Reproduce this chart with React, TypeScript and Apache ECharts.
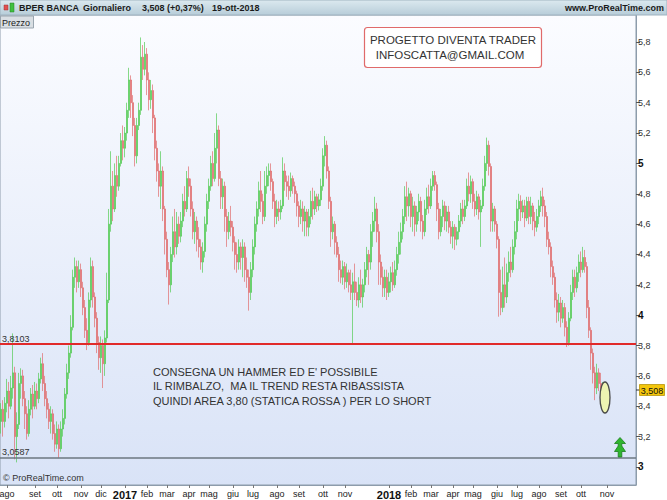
import React, { useEffect, useRef } from "react";
import * as echarts from "echarts";

// OHLC rows: [open, close, low, high] (one candle ~ 2 trading days), Jul 2016 - 19 Oct 2018
const ohlc: number[][] = [
  [3.30,3.38,3.22,3.42],[3.38,3.30,3.20,3.44],[3.30,3.42,3.26,3.46],[3.42,3.50,3.36,3.58],[3.50,3.40,3.32,3.56],
  [3.40,3.52,3.38,3.60],[3.52,3.62,3.45,3.88],[3.62,3.20,3.05,3.66],[3.20,3.28,3.03,3.36],[3.28,3.55,3.25,3.62],
  [3.55,3.60,3.45,3.65],[3.60,3.45,3.40,3.64],[3.45,3.35,3.25,3.50],[3.35,3.22,3.18,3.40],[3.22,3.38,3.20,3.44],
  [3.38,3.48,3.34,3.52],[3.48,3.40,3.32,3.54],[3.40,3.50,3.38,3.56],[3.50,3.45,3.38,3.55],[3.45,3.58,3.42,3.62],
  [3.58,3.68,3.55,3.72],[3.68,3.55,3.50,3.75],[3.55,3.45,3.40,3.60],[3.45,3.38,3.32,3.50],[3.38,3.30,3.25,3.42],
  [3.30,3.35,3.22,3.40],[3.35,3.22,3.18,3.38],[3.22,3.15,3.10,3.28],[3.15,3.25,3.12,3.30],[3.25,3.12,3.06,3.28],
  [3.12,3.25,3.10,3.30],[3.25,3.32,3.20,3.38],[3.32,3.48,3.28,3.52],[3.48,3.62,3.45,3.68],[3.62,3.75,3.58,3.80],
  [3.75,3.92,3.72,4.00],[3.92,4.25,3.90,4.30],[4.25,4.32,4.18,4.38],[4.32,4.22,4.15,4.36],[4.22,4.30,4.18,4.36],
  [4.30,4.18,4.12,4.34],[4.18,4.05,4.00,4.22],[4.05,3.90,3.85,4.10],[3.90,3.82,3.77,3.98],[3.82,4.10,3.80,4.15],
  [4.10,4.32,4.05,4.38],[4.32,4.12,4.05,4.36],[4.12,3.98,3.92,4.15],[3.98,3.82,3.75,4.02],[3.82,3.72,3.64,3.86],
  [3.72,3.80,3.62,3.86],[3.80,3.68,3.52,3.84],[3.68,3.85,3.60,3.90],[3.85,4.10,3.82,4.28],[4.10,4.60,4.08,4.70],
  [4.60,4.85,4.55,5.08],[4.85,4.70,4.62,4.95],[4.70,4.92,4.68,5.00],[4.92,4.85,4.78,5.05],[4.85,5.00,4.82,5.05],
  [5.00,5.15,4.98,5.20],[5.15,5.10,5.02,5.25],[5.10,5.20,5.04,5.24],[5.20,5.35,5.15,5.40],[5.35,5.55,5.30,5.63],
  [5.55,5.40,5.30,5.58],[5.40,5.25,5.18,5.45],[5.25,5.05,4.98,5.30],[5.05,5.25,5.00,5.30],[5.25,5.35,5.22,5.40],
  [5.35,5.70,5.32,5.83],[5.70,5.62,5.55,5.78],[5.62,5.72,5.58,5.80],[5.72,5.55,5.45,5.76],[5.55,5.42,5.35,5.60],
  [5.42,5.48,5.36,5.55],[5.48,5.30,5.20,5.52],[5.30,5.10,5.02,5.32],[5.10,4.95,4.88,5.15],[4.95,4.85,4.78,5.00],
  [4.85,4.95,4.70,5.08],[4.95,4.70,4.62,4.98],[4.70,4.50,4.40,4.72],[4.50,4.30,4.25,4.55],[4.30,4.20,4.07,4.35],
  [4.20,4.40,4.15,4.45],[4.40,4.55,4.35,4.65],[4.55,4.45,4.38,4.70],[4.45,4.60,4.40,4.68],[4.60,4.52,4.47,4.65],
  [4.52,4.62,4.48,4.68],[4.62,4.75,4.58,4.80],[4.75,4.70,4.65,4.85],[4.70,4.90,4.68,4.95],[4.90,4.85,4.78,4.98],
  [4.85,4.70,4.65,4.90],[4.70,4.55,4.50,4.75],[4.55,4.62,4.47,4.68],[4.62,4.50,4.42,4.65],[4.50,4.45,4.38,4.58],
  [4.45,4.35,4.30,4.50],[4.35,4.42,4.28,4.48],[4.42,4.60,4.38,4.65],[4.60,4.75,4.55,4.80],[4.75,4.85,4.70,4.90],
  [4.85,5.00,4.82,5.05],[5.00,4.90,4.85,5.08],[4.90,5.10,4.88,5.20],[5.10,5.22,5.00,5.33],[5.22,4.90,4.85,5.25],
  [4.90,4.78,4.70,4.95],[4.78,4.85,4.70,4.90],[4.85,4.65,4.55,4.88],[4.65,4.55,4.45,4.70],[4.55,4.62,4.50,4.68],
  [4.62,4.58,4.52,4.72],[4.58,4.48,4.42,4.62],[4.48,4.40,4.30,4.52],[4.40,4.35,4.28,4.48],[4.35,4.45,4.30,4.50],
  [4.45,4.38,4.30,4.48],[4.38,4.45,4.25,4.50],[4.45,4.30,4.22,4.48],[4.30,4.25,4.18,4.38],[4.25,4.15,4.03,4.30],
  [4.15,4.30,4.10,4.35],[4.30,4.45,4.25,4.50],[4.45,4.60,4.40,4.65],[4.60,4.70,4.55,4.75],[4.70,4.82,4.65,4.88],
  [4.82,4.75,4.68,4.95],[4.75,4.65,4.60,4.80],[4.65,4.85,4.62,4.95],[4.85,4.92,4.80,4.98],[4.92,4.95,4.85,5.00],
  [4.95,4.88,4.82,5.00],[4.88,4.75,4.70,4.90],[4.75,4.65,4.58,4.80],[4.65,4.70,4.60,4.76],[4.70,4.68,4.62,4.75],
  [4.68,4.72,4.63,4.76],[4.72,4.95,4.70,5.04],[4.95,4.88,4.82,5.00],[4.88,4.85,4.78,4.92],[4.85,4.82,4.76,4.92],
  [4.82,4.90,4.78,4.94],[4.90,4.85,4.80,4.92],[4.85,4.80,4.74,4.88],[4.80,4.72,4.65,4.82],[4.72,4.65,4.58,4.75],
  [4.65,4.70,4.60,4.76],[4.70,4.62,4.55,4.75],[4.62,4.68,4.52,4.72],[4.68,4.58,4.52,4.70],[4.58,4.65,4.52,4.70],
  [4.65,4.75,4.60,4.82],[4.75,4.70,4.63,4.84],[4.70,4.78,4.66,4.82],[4.78,4.72,4.68,4.80],[4.72,4.76,4.69,4.80],
  [4.76,4.85,4.72,4.90],[4.85,5.05,4.82,5.10],[5.05,5.12,4.98,5.18],[5.12,4.95,4.90,5.15],[4.95,4.75,4.70,4.98],
  [4.75,4.55,4.45,4.78],[4.55,4.60,4.50,4.65],[4.60,4.48,4.40,4.62],[4.48,4.40,4.38,4.52],[4.40,4.30,4.22,4.45],
  [4.30,4.25,4.21,4.36],[4.25,4.32,4.20,4.36],[4.32,4.22,4.17,4.35],[4.22,4.28,4.18,4.34],[4.28,4.20,4.15,4.30],
  [4.20,4.15,4.10,4.30],[4.15,4.22,3.81,4.28],[4.22,4.15,4.10,4.34],[4.15,4.10,4.06,4.22],[4.10,4.20,4.05,4.25],
  [4.20,4.12,4.08,4.30],[4.12,4.20,4.05,4.24],[4.20,4.30,4.15,4.35],[4.30,4.40,4.25,4.45],[4.40,4.35,4.20,4.43],
  [4.35,4.55,4.30,4.60],[4.55,4.62,4.45,4.68],[4.62,4.70,4.55,4.78],[4.70,4.55,4.48,4.74],[4.55,4.35,4.20,4.60],
  [4.35,4.25,4.20,4.40],[4.25,4.18,4.12,4.32],[4.18,4.25,4.12,4.30],[4.25,4.15,4.10,4.30],[4.15,4.22,4.12,4.28],
  [4.22,4.28,4.15,4.32],[4.28,4.20,4.16,4.35],[4.20,4.30,4.18,4.36],[4.30,4.40,4.26,4.45],[4.40,4.48,4.34,4.55],
  [4.48,4.55,4.40,4.61],[4.55,4.65,4.50,4.70],[4.65,4.78,4.60,4.85],[4.78,4.72,4.62,4.88],[4.72,4.80,4.65,4.84],
  [4.80,4.65,4.58,4.82],[4.65,4.72,4.55,4.78],[4.72,4.60,4.52,4.75],[4.60,4.68,4.55,4.72],[4.68,4.75,4.62,4.80],
  [4.75,4.62,4.55,4.78],[4.62,4.55,4.50,4.66],[4.55,4.70,4.52,4.76],[4.70,4.78,4.66,4.84],[4.78,4.72,4.67,4.86],
  [4.72,4.85,4.70,4.90],[4.85,4.92,4.82,4.95],[4.92,4.86,4.82,4.95],[4.86,4.70,4.62,4.88],[4.70,4.55,4.50,4.74],
  [4.55,4.65,4.52,4.70],[4.65,4.72,4.58,4.76],[4.72,4.62,4.56,4.75],[4.62,4.68,4.55,4.72],[4.68,4.58,4.54,4.72],
  [4.58,4.52,4.47,4.62],[4.52,4.58,4.44,4.62],[4.58,4.50,4.43,4.60],[4.50,4.55,4.46,4.58],[4.55,4.62,4.50,4.66],
  [4.62,4.70,4.58,4.74],[4.70,4.65,4.60,4.76],[4.65,4.72,4.62,4.76],[4.72,4.85,4.70,4.90],[4.85,4.80,4.75,4.94],
  [4.80,4.88,4.74,4.92],[4.88,4.75,4.70,4.90],[4.75,4.70,4.65,4.80],[4.70,4.78,4.66,4.82],[4.78,4.68,4.63,4.80],
  [4.68,4.72,4.45,4.76],[4.72,4.85,4.70,4.90],[4.85,5.00,4.82,5.05],[5.00,5.12,4.95,5.17],[5.12,4.98,4.92,5.15],
  [4.98,4.62,4.55,5.00],[4.62,4.70,4.55,4.74],[4.70,4.60,4.55,4.72],[4.60,4.50,4.44,4.62],[4.50,4.15,3.99,4.52],
  [4.15,4.05,4.00,4.30],[4.05,4.20,4.02,4.32],[4.20,4.12,4.05,4.38],[4.12,4.28,4.08,4.34],[4.28,4.35,4.22,4.42],
  [4.35,4.30,4.25,4.45],[4.30,4.45,4.28,4.50],[4.45,4.55,4.40,4.62],[4.55,4.70,4.50,4.76],[4.70,4.75,4.62,4.80],
  [4.75,4.68,4.62,4.79],[4.68,4.72,4.64,4.76],[4.72,4.64,4.58,4.76],[4.64,4.75,4.62,4.78],[4.75,4.65,4.60,4.78],
  [4.65,4.72,4.60,4.78],[4.72,4.62,4.56,4.74],[4.62,4.58,4.52,4.68],[4.58,4.65,4.55,4.70],[4.65,4.72,4.60,4.76],
  [4.72,4.78,4.68,4.82],[4.78,4.72,4.65,4.84],[4.72,4.65,4.58,4.76],[4.65,4.50,4.45,4.68],[4.50,4.45,4.40,4.55],
  [4.45,4.32,4.25,4.48],[4.32,4.25,4.20,4.36],[4.25,4.10,4.05,4.28],[4.10,4.02,3.95,4.15],[4.02,4.08,3.96,4.14],
  [4.08,3.98,3.92,4.12],[3.98,4.05,3.95,4.10],[4.05,3.92,3.86,4.08],[3.92,3.82,3.79,3.96],[3.82,3.98,3.80,4.02],
  [3.98,4.15,3.96,4.20],[4.15,4.25,4.10,4.30],[4.25,4.18,4.12,4.30],[4.18,4.28,4.15,4.32],[4.28,4.35,4.22,4.40],
  [4.35,4.30,4.25,4.42],[4.30,4.38,4.28,4.45],[4.38,4.32,4.28,4.43],[4.32,4.05,3.98,4.35],[4.05,3.90,3.85,4.10],
  [3.90,3.75,3.64,3.92],[3.75,3.62,3.55,3.78],[3.62,3.52,3.44,3.66],[3.52,3.62,3.48,3.68],[3.62,3.55,3.50,3.65],
  [3.55,3.49,3.46,3.62],[3.49,3.508,3.45,3.56]
];

const futureSlots = 16;
const monthIdx = [3,17,28,40,50,62,73,83,94,104,116,126,138,149,161,172,194,205,215,226,236,248,258,269,280,290,303];
const monthLbl = ["ago","set","ott","nov","dic","2017","feb","mar","apr","mag","giu","lug","ago","set","ott","nov","2018","feb","mar","apr","mag","giu","lug","ago","set","ott","nov"];
const yTicks = [3,3.2,3.4,3.6,3.8,4,4.2,4.4,4.6,4.8,5,5.2,5.4,5.6,5.8];
const resistance = 3.8103;
const support = 3.0587;
const lastPrice = 3.508;

const FONT = "'Liberation Sans', Arial, sans-serif";

export default function App() {
  const ref = useRef<HTMLDivElement>(null);
  useEffect(() => {
    if (!ref.current) return;
    const chart = echarts.init(ref.current, undefined, { renderer: "svg" });
    const total = ohlc.length + futureSlots;
    const cats = Array.from({ length: total }, (_, i) => String(i));
    const lblMap: Record<number, string> = {};
    monthIdx.forEach((k, j) => (lblMap[k] = monthLbl[j]));
    const isMonth = (i: number) => lblMap[i] !== undefined;
    const fmtNum = (v: number) => String(Math.round(v * 10000) / 10000).replace(".", ",");

    chart.setOption({
      animation: false,
      textStyle: { fontFamily: FONT },
      grid: {
        left: 0, right: 31, top: 15, bottom: 15,
        show: true,
        outerBoundsMode: "none",
        backgroundColor: new echarts.graphic.LinearGradient(0, 0, 0, 1, [
          { offset: 0, color: "#fbfcff" },
          { offset: 1, color: "#d9e3f7" },
        ]),
        borderColor: "#8d9cab",
        borderWidth: 1,
      },
      xAxis: {
        type: "category",
        data: cats,
        boundaryGap: true,
        axisLine: { show: true, lineStyle: { color: "#8d9cab" } },
        axisTick: { show: true, interval: (i: number) => isMonth(i), alignWithLabel: true, length: 3, lineStyle: { color: "#777" } },
        axisLabel: {
          interval: (i: number) => isMonth(i),
          formatter: (_v: string, i: number) => {
            const l = lblMap[i] ?? "";
            return /^\d+$/.test(l) ? `{b|${l}}` : l;
          },
          fontSize: 9,
          color: "#222",
          margin: 4,
          rich: { b: { fontWeight: "bold", fontSize: 11, color: "#111", fontFamily: FONT } },
        },
        splitLine: { show: false },
      },
      yAxis: {
        type: "value",
        position: "right",
        min: 2.881,
        max: 5.978,
        splitLine: { show: false },
        axisLine: { show: true, lineStyle: { color: "#8d9cab" } },
        axisTick: { show: true, customValues: yTicks, length: 4, lineStyle: { color: "#555" } },
        axisLabel: {
          customValues: yTicks,
          fontSize: 9,
          color: "#333",
          margin: 2,
          formatter: (v: number) => (Math.abs(v - Math.round(v)) < 1e-6 ? `{b|${Math.round(v)}}` : fmtNum(v)),
          rich: { b: { fontWeight: "bold", fontSize: 10, color: "#111", fontFamily: FONT } },
        },
      },
      series: [
        {
          type: "candlestick",
          data: ohlc,
          barWidth: 1.6,
          itemStyle: {
            color: "#4fc94f",
            color0: "#e06868",
            borderColor: "#4fc94f",
            borderColor0: "#e06868",
            borderWidth: 0.8,
            opacity: 0.85,
          },
          markLine: {
            silent: true,
            symbol: ["none", "none"],
            animation: false,
            data: [
              {
                yAxis: resistance,
                lineStyle: { color: "#e12a2a", width: 2, type: "solid" },
                label: { show: true, position: "insideStartTop", formatter: fmtNum(resistance), fontSize: 9, color: "#333", distance: [2, 1] },
              },
              {
                yAxis: support,
                lineStyle: { color: "#6d7780", width: 1.5, type: "solid" },
                label: { show: true, position: "insideStartTop", formatter: fmtNum(support), fontSize: 9, color: "#333", distance: [2, 1] },
              },
            ],
          },
        },
      ],
      graphic: [
        {
          type: "rect", shape: { x: 0, y: 0, width: 667, height: 15 }, z: 100,
          style: {
            fill: new echarts.graphic.LinearGradient(0, 0, 0, 1, [
              { offset: 0, color: "#dce9ef" },
              { offset: 1, color: "#b7cdd9" },
            ]),
            stroke: "#9fb3c0", lineWidth: 1,
          },
        },
        { type: "rect", shape: { x: 4, y: 5, width: 4, height: 5 }, z: 101, style: { fill: "#e05050", stroke: "#a03030", lineWidth: 0.5 } },
        { type: "rect", shape: { x: 10, y: 3, width: 4, height: 9 }, z: 101, style: { fill: "#40c040", stroke: "#208020", lineWidth: 0.5 } },
        { type: "text", x: 19, y: 7.5, z: 101, style: { text: "BPER BANCA", font: `bold 9px ${FONT}`, fill: "#1a1a1a", verticalAlign: "middle" } },
        { type: "text", x: 83, y: 7.5, z: 101, style: { text: "Giornaliero", font: `bold 9px ${FONT}`, fill: "#1a1a1a", verticalAlign: "middle" } },
        { type: "text", x: 142, y: 7.5, z: 101, style: { text: "3,508 (+0,37%)", font: `bold 9px ${FONT}`, fill: "#1a1a1a", verticalAlign: "middle" } },
        { type: "text", x: 212, y: 7.5, z: 101, style: { text: "19-ott-2018", font: `bold 9px ${FONT}`, fill: "#1a1a1a", verticalAlign: "middle" } },
        { type: "text", x: 664, y: 7.5, z: 101, style: { text: "www.ProRealTime.com", font: `bold 9px ${FONT}`, fill: "#1a1a1a", align: "right", verticalAlign: "middle" } },
        { type: "rect", shape: { x: 0.5, y: 16, width: 33, height: 12 }, z: 101, style: { fill: "#d9dee3", stroke: "#9aa6b0", lineWidth: 1 } },
        { type: "text", x: 2, y: 22.5, z: 102, style: { text: "Prezzo", font: `9px ${FONT}`, fill: "#222", verticalAlign: "middle" } },
        { type: "rect", shape: { x: 364.5, y: 27.5, width: 177, height: 40, r: 3 }, z: 101, style: { fill: "#ffffff", stroke: "#e06a6a", lineWidth: 1.2 } },
        { type: "text", x: 453, y: 39.5, z: 102, style: { text: "PROGETTO DIVENTA TRADER", font: `11.5px ${FONT}`, fill: "#333", align: "center", verticalAlign: "middle" } },
        { type: "text", x: 450, y: 55, z: 102, style: { text: "INFOSCATTA@GMAIL.COM", font: `11.5px ${FONT}`, fill: "#333", align: "center", verticalAlign: "middle" } },
        { type: "text", x: 153, y: 372, z: 102, style: { text: "CONSEGNA UN HAMMER ED E' POSSIBILE", font: `11px ${FONT}`, fill: "#333", verticalAlign: "middle" } },
        { type: "text", x: 153, y: 386, z: 102, style: { text: "IL RIMBALZO,  MA IL TREND RESTA RIBASSISTA", font: `11px ${FONT}`, fill: "#333", verticalAlign: "middle" } },
        { type: "text", x: 153, y: 400.5, z: 102, style: { text: "QUINDI AREA 3,80 (STATICA ROSSA ) PER LO SHORT", font: `11px ${FONT}`, fill: "#333", verticalAlign: "middle" } },
        { type: "ellipse", shape: { cx: 605, cy: 397.5, rx: 5, ry: 15.5 }, z: 102, style: { fill: "#eef4b2", stroke: "#4a4a4a", lineWidth: 1.3 } },
        { type: "polygon", shape: { points: [[620, 438], [625.5, 444], [622, 444], [622, 447], [625.5, 447], [625.5, 447]] }, z: 101, invisible: true },
        { type: "polygon", shape: { points: [[620, 437.5], [625.5, 443.5], [621.8, 443.5], [621.8, 446], [625.5, 451.5], [621.8, 451.5], [621.8, 457], [618.2, 457], [618.2, 451.5], [614.5, 451.5], [618.2, 446], [618.2, 443.5], [614.5, 443.5]] }, z: 102, style: { fill: "#2fb52f", stroke: "#1b7d1b", lineWidth: 0.8 } },
        { type: "line", shape: { x1: 636, y1: 390, x2: 640, y2: 390 }, z: 102, style: { stroke: "#333", lineWidth: 1 } },
        { type: "rect", shape: { x: 639.5, y: 384.5, width: 25, height: 11 }, z: 102, style: { fill: "#f3c60c", stroke: "#b8950a", lineWidth: 0.8 } },
        { type: "text", x: 652, y: 390.5, z: 103, style: { text: fmtNum(lastPrice), font: `9px ${FONT}`, fill: "#111", align: "center", verticalAlign: "middle" } },
        { type: "text", x: 3, y: 477.5, z: 102, style: { text: "© ProRealTime.com", font: `9px ${FONT}`, fill: "#333", verticalAlign: "middle" } },
      ],
    });
    return () => chart.dispose();
  }, []);
  return <div ref={ref} style={{ position: "fixed", left: 0, top: 0, width: 667, height: 500, background: "#fff" }} />;
}
